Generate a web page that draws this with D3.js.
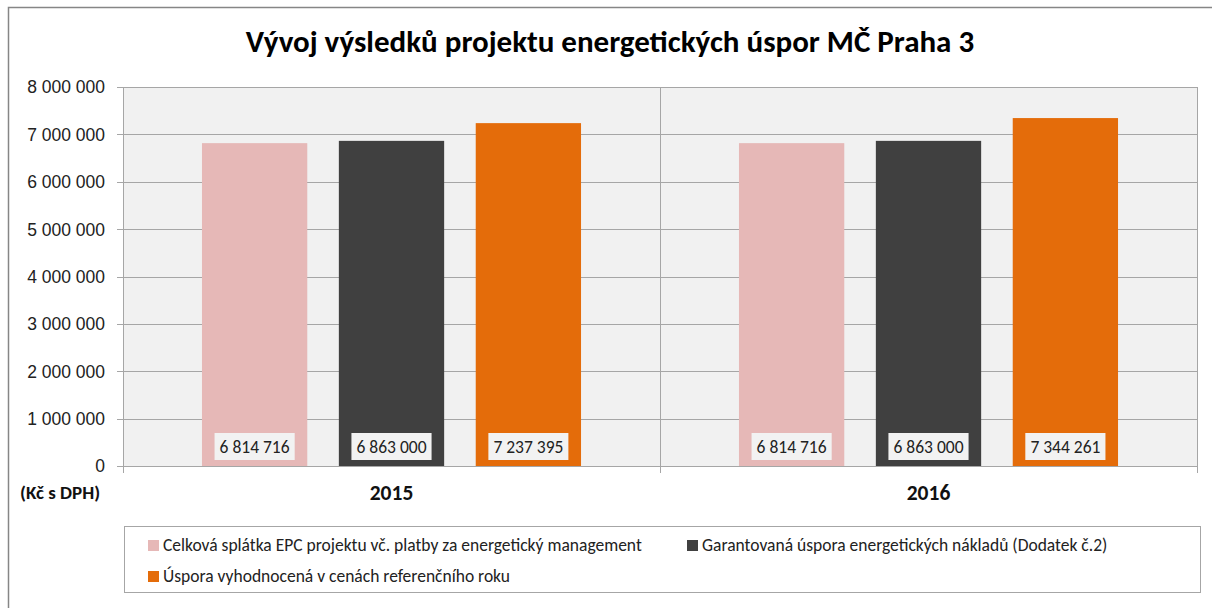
<!DOCTYPE html>
<html><head><meta charset="utf-8">
<script src="https://cdn.jsdelivr.net/npm/d3@7"></script>
<style>
html,body{margin:0;padding:0;background:#fff;}
svg{display:block;font-family:Carlito,Calibri,Lato,"Open Sans",sans-serif;}
</style></head>
<body><svg id="c" width="1212" height="608"></svg>
<script>
const title = "Vývoj výsledků projektu energetických úspor MČ Praha 3";
const categories = ["2015", "2016"];
const seriesNames = [
  "Celková splátka EPC projektu vč. platby za energetický management",
  "Garantovaná úspora energetických nákladů (Dodatek č.2)",
  "Úspora vyhodnocená v cenách referenčního roku"
];
const celkovaSplatka = [6814716, 6814716];
const garantovanaUspora = [6863000, 6863000];
const usporaVyhodnocena = [7237395, 7344261];
const yTicks = [0, 1000000, 2000000, 3000000, 4000000, 5000000, 6000000, 7000000, 8000000];
const unitLabel = "(Kč s DPH)";

const seriesValues = [celkovaSplatka, garantovanaUspora, usporaVyhodnocena];
const colors = ["#E6B8B7", "#404040", "#E46C0A"];

const loc = d3.formatLocale({decimal: ",", thousands: " ", grouping: [3], currency: ["", ""]});
const fmt = loc.format(",d");

const svg = d3.select("#c");
const L = 123, R = 1197, T = 87, B = 466;

// outer border
svg.append("rect").attr("x", 8.5).attr("y", 7.5).attr("width", 1220).attr("height", 620)
  .attr("fill", "#fff").attr("stroke", "#868686").attr("stroke-width", 1.5);

// title
svg.append("text").attr("x", 610).attr("y", 52).attr("text-anchor", "middle")
  .attr("font-size", 31).attr("font-weight", "bold").attr("fill", "#000").text(title);

const x = d3.scaleBand().domain(categories).range([L, R]).paddingInner(0).paddingOuter(0);
const xs = d3.scaleBand().domain(d3.range(seriesNames.length)).range([0, x.bandwidth()])
  .paddingInner(0.3 / 1.3).paddingOuter(0.75 / 1.3);
const y = d3.scaleLinear().domain([0, 8000000]).range([B, T]);

// plot background
svg.append("rect").attr("x", L).attr("y", T).attr("width", R - L).attr("height", B - T).attr("fill", "#F1F1F1");

// gridlines
svg.append("g").selectAll("line").data(yTicks).join("line")
  .attr("x1", L - 6).attr("x2", R).attr("y1", d => Math.round(y(d)) + 0.5).attr("y2", d => Math.round(y(d)) + 0.5)
  .attr("stroke", "#A6A6A6").attr("stroke-width", 1);

// y axis via d3
const yAxis = svg.append("g").attr("transform", `translate(${L},0)`)
  .call(d3.axisLeft(y).tickValues(yTicks).tickFormat(fmt).tickSize(0).tickPadding(18));
yAxis.select(".domain").remove();
yAxis.selectAll("text").attr("font-size", 17.5).attr("fill", "#222").attr("font-family", null).attr("dy", "0.34em");

// vertical lines: left axis, category separator, right edge
const vlines = [L, x("2016"), R];
svg.append("g").selectAll("line").data(vlines).join("line")
  .attr("x1", d => d + 0.5).attr("x2", d => d + 0.5).attr("y1", T).attr("y2", B + 7)
  .attr("stroke", "#A6A6A6").attr("stroke-width", 1);

// bars
const barData = [];
categories.forEach((c, ci) => seriesValues.forEach((s, si) => barData.push({c, si, v: s[ci]})));
svg.append("g").selectAll("rect").data(barData).join("rect")
  .attr("x", d => x(d.c) + xs(d.si)).attr("width", xs.bandwidth())
  .attr("y", d => y(d.v)).attr("height", d => y(0) - y(d.v))
  .attr("fill", d => colors[d.si]);

// data labels
const lg = svg.append("g").selectAll("g").data(barData).join("g");
lg.each(function(d) {
  const g = d3.select(this);
  const cx = x(d.c) + xs(d.si) + xs.bandwidth() / 2;
  const t = g.append("text").attr("x", cx).attr("y", y(0) - 13.5).attr("text-anchor", "middle")
    .attr("font-size", 17.5).attr("fill", "#222").text(fmt(d.v));
  const bb = t.node().getBBox();
  g.insert("rect", "text").attr("x", cx - bb.width / 2 - 5).attr("y", y(0) - 33)
    .attr("width", bb.width + 10).attr("height", 27).attr("fill", "#F2F2F2");
});

// category labels
svg.append("g").selectAll("text").data(categories).join("text")
  .attr("x", d => x(d) + x.bandwidth() / 2).attr("y", 500).attr("text-anchor", "middle")
  .attr("font-size", 21.5).attr("font-weight", "bold").attr("fill", "#111").text(d => d);

svg.append("text").attr("x", 20).attr("y", 499).attr("font-size", 19).attr("font-weight", "bold")
  .attr("fill", "#111").text(unitLabel);

// legend
svg.append("rect").attr("x", 124.5).attr("y", 526.5).attr("width", 1076).attr("height", 66)
  .attr("fill", "#fff").attr("stroke", "#A6A6A6");
const legPos = [[148, 551], [687, 551], [148, 582]];
const leg = svg.append("g").selectAll("g").data(seriesNames).join("g")
  .attr("transform", (d, i) => `translate(${legPos[i][0]},${legPos[i][1]})`);
leg.append("rect").attr("x", 0).attr("y", -11).attr("width", 11).attr("height", 11).attr("fill", (d, i) => colors[i]);
leg.append("text").attr("x", 15).attr("y", 0).attr("font-size", 17.5).attr("fill", "#222").text(d => d);
</script></body></html>
